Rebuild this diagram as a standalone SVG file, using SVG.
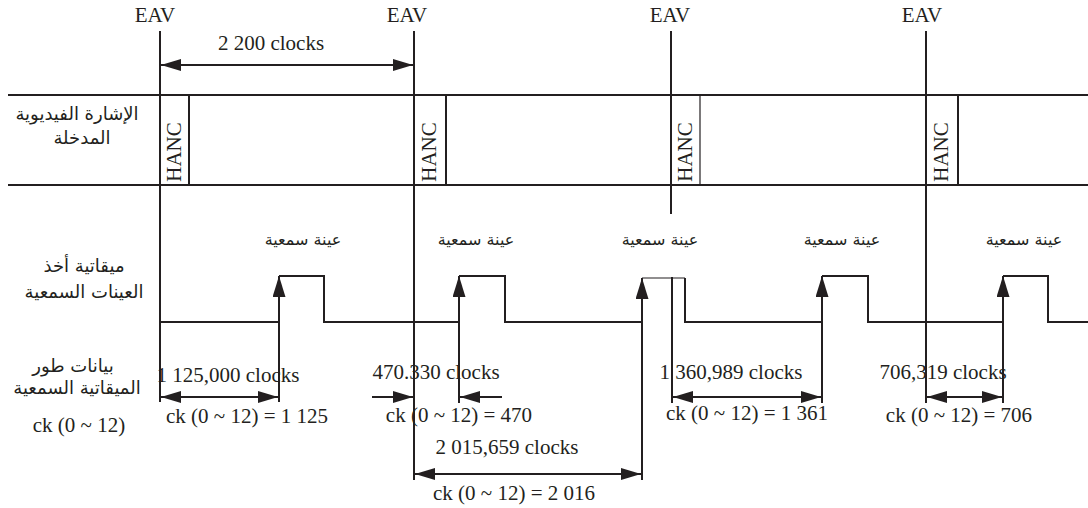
<svg xmlns="http://www.w3.org/2000/svg" width="1088" height="508" viewBox="0 0 1088 508">
<style>
.ln{stroke:#231f20;stroke-width:2;fill:none}
.thin{stroke:#231f20;stroke-width:1.2;fill:none}
.t{font-family:"Liberation Serif","Times New Roman",serif;font-size:21px;fill:#231f20}
.ar{font-family:"DejaVu Sans","Noto Sans",sans-serif;font-size:16px;fill:#231f20;direction:rtl}
.arl{font-family:"DejaVu Sans","Noto Sans",sans-serif;font-size:18px;fill:#231f20;direction:rtl}
.m{text-anchor:middle}
</style>
<defs>
<marker id="ah" viewBox="0 0 20 12" refX="20" refY="6" markerWidth="20" markerHeight="12" markerUnits="userSpaceOnUse" orient="auto-start-reverse">
<path d="M0,0 L20,6 L0,12 z" fill="#231f20"/>
</marker>
<marker id="up" viewBox="0 0 21 13" refX="21" refY="6.5" markerWidth="21" markerHeight="13" markerUnits="userSpaceOnUse" orient="auto">
<path d="M0,0 L21,6.5 L0,13 z" fill="#231f20"/>
</marker>
</defs>
<rect width="1088" height="508" fill="#ffffff"/>

<g id="video-row">
<path class="ln" d="M8,95 H1088 M8,185 H1088"/>
</g>

<g id="eav-lines">
<path class="ln" d="M160,31 V402"/>
<path class="ln" d="M414,31 V480"/>
<path class="ln" d="M671,31 V214 M672,277 V403"/>
<path class="ln" d="M926,31 V403"/>
<text class="t m" x="155" y="22">EAV</text>
<text class="t m" x="407" y="22">EAV</text>
<text class="t m" x="670" y="22">EAV</text>
<text class="t m" x="922" y="22">EAV</text>
</g>

<g id="hanc">
<path class="ln" d="M189,95 V185 M446,95 V185 M958,95 V185"/>
<path class="thin" d="M700,95 V185"/>
<text class="t m" transform="translate(181,152) rotate(-90)">HANC</text>
<text class="t m" transform="translate(436,152) rotate(-90)">HANC</text>
<text class="t m" transform="translate(692,152) rotate(-90)">HANC</text>
<text class="t m" transform="translate(948,152) rotate(-90)">HANC</text>
</g>

<g id="sample-clock">
<path class="ln" d="M160,322 H279 M279,276 H324 V322 H459 M459,276 H505 V322 H642 M685,278 V322 H822 M822,276 H868 V322 H1003 M1003,276 H1048 V322 H1088"/>
<path class="thin" d="M642,278 H685"/>
<text class="ar m" x="303" y="245">عينة سمعية</text>
<text class="ar m" x="476" y="245">عينة سمعية</text>
<text class="ar m" x="660" y="245">عينة سمعية</text>
<text class="ar m" x="842" y="245">عينة سمعية</text>
<text class="ar m" x="1024" y="245">عينة سمعية</text>
</g>

<g id="connectors">
<path class="ln" d="M279,402 V276" marker-end="url(#up)"/>
<path class="ln" d="M459,403 V276" marker-end="url(#up)"/>
<path class="ln" d="M642,480 V278" marker-end="url(#up)"/>
<path class="ln" d="M822,403 V276" marker-end="url(#up)"/>
<path class="ln" d="M1003,403 V276" marker-end="url(#up)"/>
<path class="ln" d="M161,65 H413" marker-start="url(#ah)" marker-end="url(#ah)"/>
<path class="ln" d="M161,397 H278" marker-start="url(#ah)" marker-end="url(#ah)"/>
<path class="ln" d="M372,397 H413" marker-end="url(#ah)"/>
<path class="ln" d="M502,397 H460" marker-end="url(#ah)"/>
<path class="ln" d="M673,397 H821" marker-start="url(#ah)" marker-end="url(#ah)"/>
<path class="ln" d="M927,397 H1002" marker-start="url(#ah)" marker-end="url(#ah)"/>
<path class="ln" d="M415,474 H641" marker-start="url(#ah)" marker-end="url(#ah)"/>
</g>

<g id="measure-labels">
<text class="t m" x="271" y="50">2 200 clocks</text>
<text class="t m" x="228" y="382">1 125,000 clocks</text>
<text class="t m" x="247" y="423">ck (0 ~ 12) = 1 125</text>
<text class="t m" x="436" y="379">470.330 clocks</text>
<text class="t m" x="459" y="422">ck (0 ~ 12) = 470</text>
<text class="t m" x="507" y="454">2 015,659 clocks</text>
<text class="t m" x="514" y="500">ck (0 ~ 12) = 2 016</text>
<text class="t m" x="731" y="379">1 360,989 clocks</text>
<text class="t m" x="747" y="420">ck (0 ~ 12) = 1 361</text>
<text class="t m" x="943" y="379">706,319 clocks</text>
<text class="t m" x="959" y="422">ck (0 ~ 12) = 706</text>
</g>

<g id="row-labels">
<text class="arl m" x="77" y="120">الإشارة الفيديوية</text>
<text class="arl m" x="82" y="144">المدخلة</text>
<text class="arl m" x="84" y="272">ميقاتية أخذ</text>
<text class="arl m" x="84" y="298">العينات السمعية</text>
<text class="arl m" x="73" y="372">بيانات طور</text>
<text class="arl m" x="77" y="394">الميقاتية السمعية</text>
<text class="t m" x="79" y="432">ck (0 ~ 12)</text>
</g>
</svg>
